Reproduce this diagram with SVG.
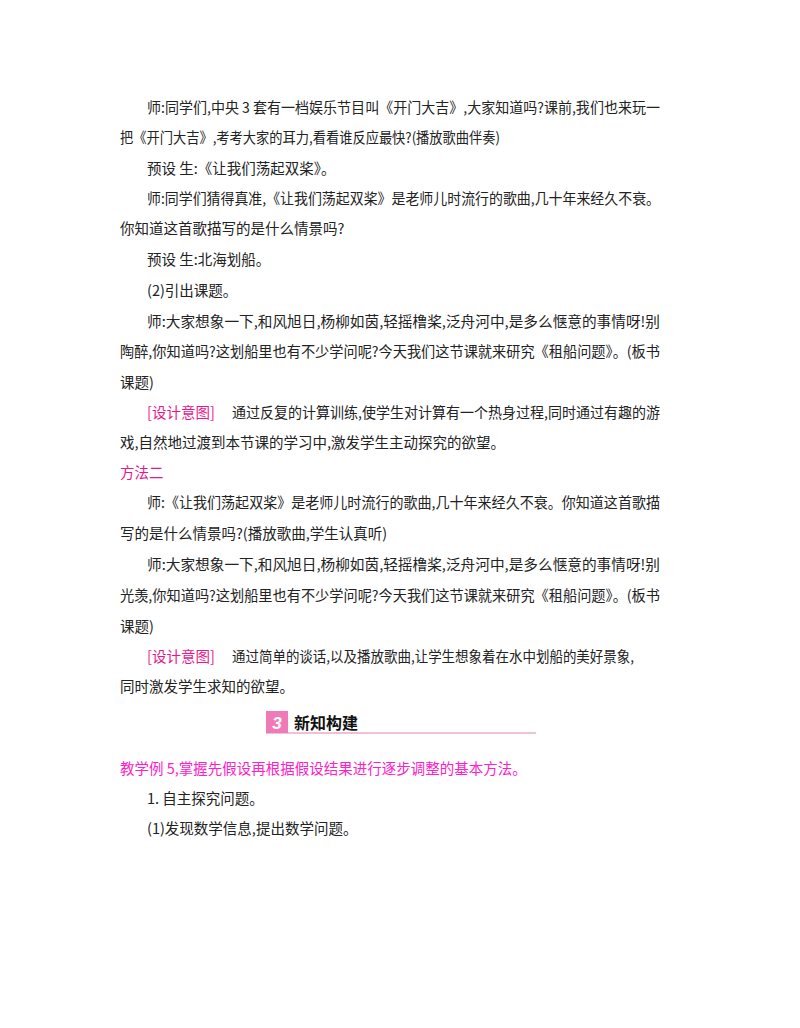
<svg xmlns="http://www.w3.org/2000/svg" width="800" height="1028" viewBox="0 0 800 1028">
<style>
text{font-family:"Noto Sans CJK SC","Liberation Serif",serif;font-size:14.5px;fill:#222}
.p{fill:#e8188c}
.m{fill:#ff20c8}
</style>
<rect width="800" height="1028" fill="#fff"/>
<g id="body">
<text x="147" y="113" textLength="513" lengthAdjust="spacingAndGlyphs">师:同学们,中央 3 套有一档娱乐节目叫《开门大吉》,大家知道吗?课前,我们也来玩一</text>
<text x="120" y="143" textLength="380" lengthAdjust="spacingAndGlyphs">把《开门大吉》,考考大家的耳力,看看谁反应最快?(播放歌曲伴奏)</text>
<text x="147" y="174">预设 生:《让我们荡起双桨》。</text>
<text x="147" y="204" textLength="513" lengthAdjust="spacingAndGlyphs">师:同学们猜得真准,《让我们荡起双桨》是老师儿时流行的歌曲,几十年来经久不衰。</text>
<text x="120" y="234">你知道这首歌描写的是什么情景吗?</text>
<text x="147" y="265">预设 生:北海划船。</text>
<text x="147" y="296">(2)引出课题。</text>
<text x="147" y="327" textLength="513" lengthAdjust="spacingAndGlyphs">师:大家想象一下,和风旭日,杨柳如茵,轻摇橹桨,泛舟河中,是多么惬意的事情呀!别</text>
<text x="120" y="357" textLength="540" lengthAdjust="spacingAndGlyphs">陶醉,你知道吗?这划船里也有不少学问呢?今天我们这节课就来研究《租船问题》。(板书</text>
<text x="120" y="388">课题)</text>
<text x="147" y="418" class="p">[设计意图]</text>
<text x="232" y="418" textLength="428" lengthAdjust="spacingAndGlyphs">通过反复的计算训练,使学生对计算有一个热身过程,同时通过有趣的游</text>
<text x="120" y="448">戏,自然地过渡到本节课的学习中,激发学生主动探究的欲望。</text>
<text x="120" y="478" class="p">方法二</text>
<text x="147" y="508" textLength="513" lengthAdjust="spacingAndGlyphs">师:《让我们荡起双桨》是老师儿时流行的歌曲,几十年来经久不衰。你知道这首歌描</text>
<text x="120" y="539">写的是什么情景吗?(播放歌曲,学生认真听)</text>
<text x="147" y="570" textLength="513" lengthAdjust="spacingAndGlyphs">师:大家想象一下,和风旭日,杨柳如茵,轻摇橹桨,泛舟河中,是多么惬意的事情呀!别</text>
<text x="120" y="601" textLength="540" lengthAdjust="spacingAndGlyphs">光羡,你知道吗?这划船里也有不少学问呢?今天我们这节课就来研究《租船问题》。(板书</text>
<text x="120" y="632">课题)</text>
<text x="147" y="662" class="p">[设计意图]</text>
<text x="232" y="662" textLength="402" lengthAdjust="spacingAndGlyphs">通过简单的谈话,以及播放歌曲,让学生想象着在水中划船的美好景象,</text>
<text x="120" y="692">同时激发学生求知的欲望。</text>
</g>
<g id="header">
<rect x="266" y="711" width="22" height="22" fill="#f07ab8"/>
<text x="277" y="729" text-anchor="middle" style="font-family:'Liberation Sans',sans-serif;font-weight:bold;font-style:italic;font-size:17px;fill:#fff">3</text>
<text x="294" y="729" style="font-weight:bold;font-size:16px;fill:#111">新知构建</text>
<line x1="266" y1="733" x2="536" y2="733" stroke="#e080b0" stroke-width="1"/>
</g>
<g id="body2">
<text x="120" y="774" class="m">教学例 5,掌握先假设再根据假设结果进行逐步调整的基本方法。</text>
<text x="147" y="804">1. 自主探究问题。</text>
<text x="147" y="834">(1)发现数学信息,提出数学问题。</text>
</g>
</svg>
